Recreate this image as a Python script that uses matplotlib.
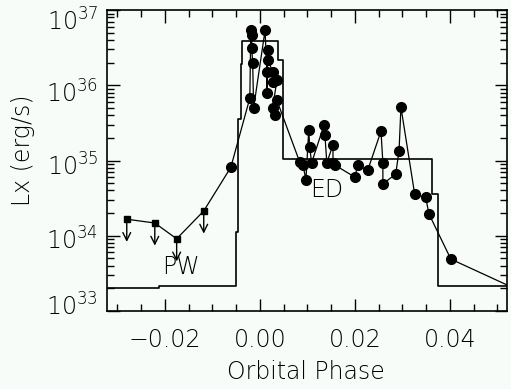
import matplotlib
matplotlib.use("Agg")
import matplotlib.pyplot as plt
import matplotlib.transforms as mtransforms
from matplotlib.ticker import MultipleLocator, LogLocator, NullFormatter, FixedLocator, FuncFormatter
import numpy as np

# Upper limits (phase, log10 Lx)
ul_phase = [-0.0280, -0.0221, -0.0175, -0.0118]
ul_log = [34.22, 34.17, 33.96, 34.33]

# Detections (phase, log10 Lx), in drawing order
det_phase = [-0.0061, -0.0021, -0.0019, -0.0017, -0.0017, -0.0015, -0.0013,
             0.0011, 0.0015, 0.0015, 0.0017, 0.0017, 0.0027, 0.0027, 0.0036,
             0.0027, 0.0032, 0.0036, 0.0084, 0.0091, 0.0097, 0.0103, 0.0105,
             0.0109, 0.0135, 0.0137, 0.0141, 0.0154, 0.0154, 0.0158, 0.0200,
             0.0206, 0.0227, 0.0255, 0.0259, 0.0259, 0.0286, 0.0293, 0.0297,
             0.0326, 0.0349, 0.0356, 0.0402]
det_log = [34.91, 35.83, 36.73, 36.67, 36.49, 36.30, 35.70,
           36.73, 36.18, 35.90, 36.47, 36.34, 36.18, 36.04, 36.07,
           35.70, 35.60, 35.80, 34.98, 34.94, 34.74, 35.41, 35.18,
           34.97, 35.47, 35.34, 34.97, 35.21, 34.97, 34.94, 34.78,
           34.94, 34.87, 35.39, 34.97, 34.69, 34.82, 35.13, 35.71,
           34.55, 34.51, 34.29, 33.69]
tail_phase = [0.0402, 0.0550]
tail_log = [33.69, 33.26]

# Model step curve (edges in phase, level log10 Lx)
step_phase = [-0.035, -0.0212, -0.0051, -0.0046, -0.0040, -0.0038, 0.0038, 0.0048, 0.0362, 0.0375, 0.055]
step_log = [33.31, 33.33, 34.05, 35.55, 36.28, 36.59, 36.34, 35.02, 34.55, 33.33, 33.33]

# y tick label exponents and x tick values
y_exps = [33, 34, 35, 36, 37]
y_label_shift_px = [-4, 5, 7, 9, 12]
x_ticks = [-0.02, 0.0, 0.02, 0.04]

plt.rcParams['font.family'] = ['DejaVu Sans']
plt.rcParams['mathtext.fontset'] = 'custom'
plt.rcParams['mathtext.rm'] = 'DejaVu Sans:light'
plt.rcParams['mathtext.it'] = 'DejaVu Sans:italic:light'
plt.rcParams['mathtext.bf'] = 'DejaVu Sans:bold'
FW = 'light'
FS = 17

bg = '#f8fcf8'
fig = plt.figure(figsize=(5.11, 3.89), dpi=100, facecolor=bg)
ax = fig.add_axes([0.209, 0.2005, 0.783, 0.7735], facecolor=bg)

ul = 10 ** np.array(ul_log)
det = 10 ** np.array(det_log)

# step model
ax.step(step_phase, 10 ** np.array(step_log), where='post', color='black', lw=1.2)

# connecting line
line_x = ul_phase + det_phase
line_y = list(ul) + list(det)
ax.plot(line_x, line_y, color='black', lw=0.9)
ax.plot(tail_phase, 10 ** np.array(tail_log), color='black', lw=0.9)

ax.plot(ul_phase, ul, 's', color='black', ms=5)
for x, y in zip(ul_phase, ul):
    ax.annotate('', xy=(x, y / 2.0), xytext=(x, y),
                arrowprops=dict(arrowstyle='->', lw=1.0, color='black',
                                mutation_scale=14, shrinkA=0, shrinkB=0))
ax.plot(det_phase, det, 'o', color='black', ms=7)

ax.text(-0.0166, 10 ** 33.58, 'PW', fontsize=FS, fontweight=FW, ha='center', va='center')
ax.text(0.0141, 10 ** 34.61, 'ED', fontsize=FS, fontweight=FW, ha='center', va='center')

ax.set_yscale('log')
ax.set_xlim(-0.0322, 0.052)
ax.set_ylim(1e33, 1e37)

ax.xaxis.set_major_locator(FixedLocator(x_ticks))
ax.xaxis.set_minor_locator(MultipleLocator(0.005))
ax.xaxis.set_major_formatter(FuncFormatter(lambda v, p: ('%.2f' % v).replace('-', '\u2212')))
ax.yaxis.set_major_locator(LogLocator(base=10, numticks=10))
ax.yaxis.set_minor_locator(LogLocator(base=10, subs=np.arange(2, 10), numticks=20))
ax.yaxis.set_major_formatter(NullFormatter())
ax.yaxis.set_minor_formatter(NullFormatter())

ax.tick_params(which='both', direction='in', top=True, right=True, color='black', width=1)
ax.tick_params(which='major', length=9, labelsize=FS)
ax.tick_params(axis='x', which='major', pad=12)
ax.tick_params(which='minor', length=5)
for lab in ax.get_xticklabels():
    lab.set_fontweight(FW)
for s in ax.spines.values():
    s.set_linewidth(1.2)

# y tick labels drawn as text, shifted like the reference
blend = mtransforms.blended_transform_factory(ax.transAxes, ax.transData)
for e, sh in zip(y_exps, y_label_shift_px):
    off = mtransforms.ScaledTranslation(0, -(sh + 8.5) / 100.0, fig.dpi_scale_trans)
    ax.text(-0.022, 10.0 ** e, r'$\mathrm{10^{%d}}$' % e, fontsize=FS,
            ha='right', va='baseline', transform=blend + off, clip_on=False)

ax.set_xlabel('Orbital Phase', fontsize=FS, fontweight=FW)
ax.xaxis.set_label_coords(0.4975, -0.163)
ax.set_ylabel('Lx (erg/s)', fontsize=FS, fontweight=FW)
ax.yaxis.set_label_coords(-0.18, 0.535)

fig.savefig('out.png', dpi=100, facecolor=bg)
